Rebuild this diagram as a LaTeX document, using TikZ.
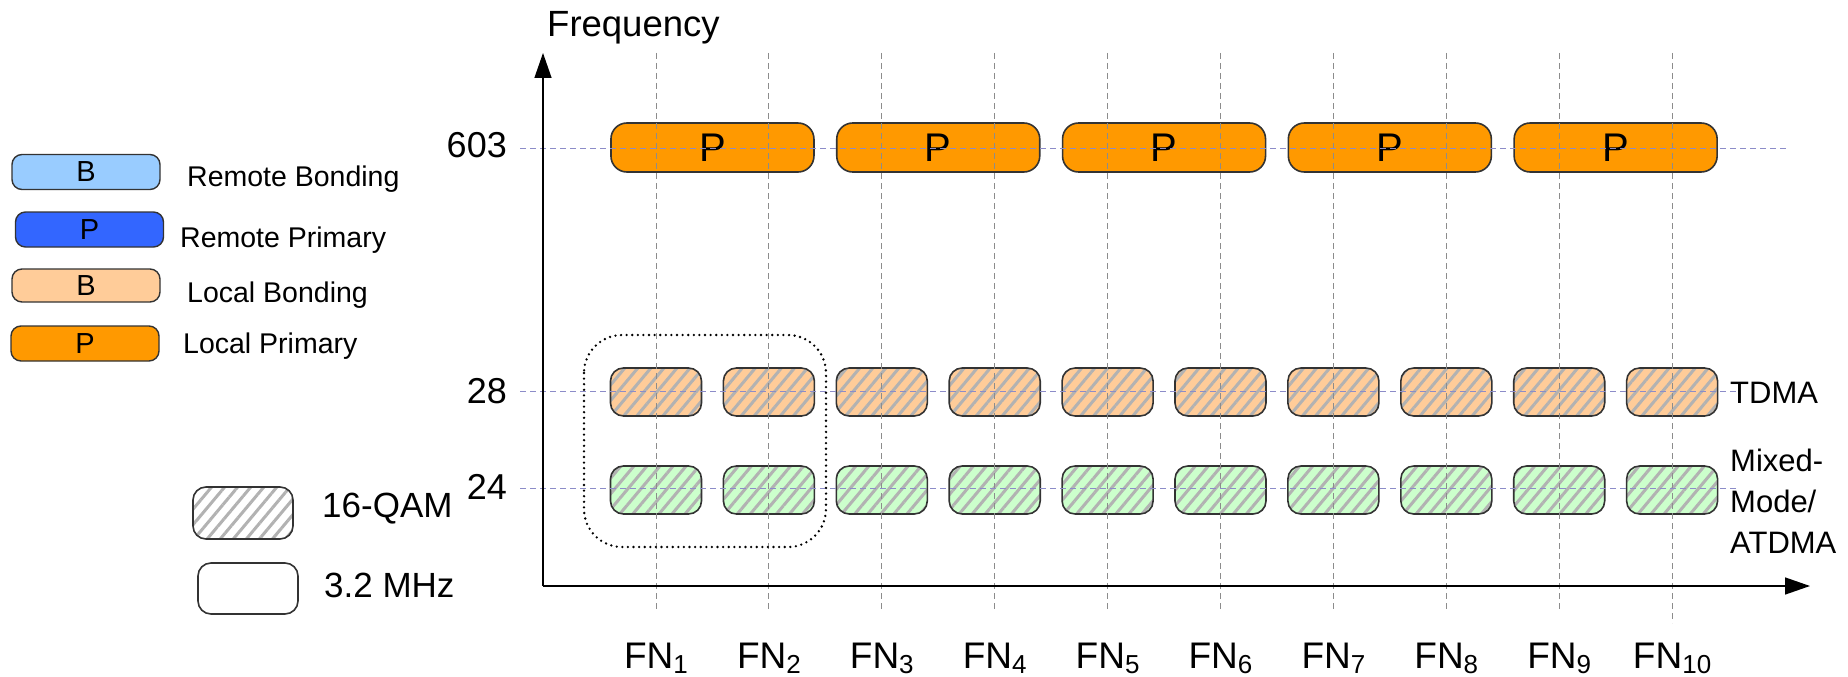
\documentclass[tikz,border=0pt]{standalone}
\usepackage{fontspec}
\setmainfont{Liberation Sans}
\usetikzlibrary{arrows.meta}
\usetikzlibrary{patterns.meta}
\definecolor{remotebond}{HTML}{99CCFF}
\definecolor{remoteprim}{HTML}{3366FF}
\definecolor{localbond}{HTML}{FFCC99}
\definecolor{localprim}{HTML}{FF9900}
\definecolor{mixgreen}{HTML}{CCFFCC}
\definecolor{freqline}{HTML}{8C8CC8}
\tikzset{
	griddash/.style={dashed, dash pattern=on 6pt off 4pt, line width=1pt},
	legbox/.style={draw=black!80, line width=1.4pt, rounded corners=10pt, minimum width=148pt, minimum height=35pt, inner sep=0pt, font=\fontsize{29}{30}\selectfont},
	legtext/.style={anchor=base west, inner sep=0pt, font=\fontsize{28.5}{30}\selectfont},
	bigtext/.style={inner sep=0pt, font=\fontsize{35}{40}\selectfont},
	pbox/.style={draw=black!80, line width=1.6pt, rounded corners=16pt, fill=localprim, minimum width=203pt, minimum height=49pt, inner sep=0pt, font=\fontsize{40}{44}\selectfont},
	chan/.style={draw=black!80, line width=1.6pt, rounded corners=13pt, minimum width=91pt, minimum height=48pt, inner sep=0pt},
	hatched/.style={preaction={fill=#1}, preaction={pattern={Lines[angle=50, distance=10pt, line width=3pt]}, pattern color=black!30}}
}
\newcommand{\fnsub}[1]{\raisebox{-5pt}{\fontsize{26}{26}\selectfont #1}}
\begin{document}
\begin{tikzpicture}[x=1pt, y=-1pt]
	\useasboundingbox (0,0) rectangle (1848,677);
	% legend
	\node[legbox, fill=remotebond] (legrb) at (86,172) {B};
	\node[legtext] (legrbtxt) at (187,186) {Remote Bonding};
	\node[legbox, fill=remoteprim] (legrp) at (89.5,229.5) {P};
	\node[legtext] (legrptxt) at (180,247) {Remote Primary};
	\node[legbox, fill=localbond, minimum height=33pt] (leglb) at (86,285.5) {B};
	\node[legtext] (leglbtxt) at (187,302) {Local Bonding};
	\node[legbox, fill=localprim] (leglp) at (85,343.5) {P};
	\node[legtext] (leglptxt) at (183,353) {Local Primary};
	
	\node[chan, hatched=white, minimum width=100pt, minimum height=52pt] (legqam) at (243,513) {};
	\node[bigtext, anchor=base west] (legqamtxt) at (322,517) {16-QAM};
	\node[chan, minimum width=100pt, minimum height=51pt] (legbw) at (248,588.5) {};
	\node[bigtext, anchor=base west] (legbwtxt) at (324,597) {3.2 MHz};
	
	% channels
	\foreach \k in {1,...,5} {
		\pgfmathsetmacro\px{656+112.9*(2*\k-1.5)}
		\node[pbox] (prim\k) at (\px,147.5) {P};
	}
	\foreach \i in {1,...,10} {
		\pgfmathsetmacro\fx{656+112.9*(\i-1)}
		\node[chan, hatched=localbond] (tdma\i) at (\fx,392) {};
		\node[chan, hatched=mixgreen] (atdma\i) at (\fx,490) {};
		\node[bigtext, anchor=base, font=\fontsize{37}{40}\selectfont] (fn\i) at (\fx,668) {FN\fnsub{\i}};
	}
	
	% grid
	\foreach \i in {1,...,9} {
		\pgfmathsetmacro\fx{656+112.9*(\i-1)}
		\draw[griddash, black!45] (\fx,53) -- (\fx,610);
	}
	\draw[griddash, black!45] (1672,53) -- (1672,623);
	\draw[griddash, freqline] (520,148) -- (1788,148);
	\draw[griddash, freqline] (520,391) -- (1737,391);
	\draw[griddash, freqline] (520,488) -- (1737,488);
	
	\draw[line width=2.6pt, line cap=round, dash pattern=on 0pt off 5.6pt, rounded corners=38pt] (584,335) rectangle (826,547);
	
	% axes
	\coordinate (origin) at (543,586);
	\coordinate (ytop) at (543,53);
	\coordinate (xend) at (1810,586);
	\draw[line width=1.4pt, -{Triangle[length=25pt, width=17pt]}] (origin) -- (ytop);
	\draw[line width=1.4pt, -{Triangle[length=25pt, width=17pt]}] (origin) -- (xend);
	\node[bigtext, anchor=base west, font=\fontsize{36.5}{40}\selectfont] (freq) at (547,37) {Frequency};
	\node[bigtext, anchor=base east, font=\fontsize{36}{40}\selectfont] (f603) at (507,157) {603};
	\node[bigtext, anchor=base east, font=\fontsize{36}{40}\selectfont] (f28) at (507,403) {28};
	\node[bigtext, anchor=base east, font=\fontsize{36}{40}\selectfont] (f24) at (507,499) {24};
	\node[bigtext, anchor=base west, font=\fontsize{31}{34}\selectfont] (tdmatxt) at (1730,403) {TDMA};
	\node[bigtext, anchor=north west, align=left, font=\fontsize{31}{41}\selectfont] (atdmatxt) at (1730,449) {Mixed-\\Mode/\\ATDMA};
\end{tikzpicture}
\end{document}
